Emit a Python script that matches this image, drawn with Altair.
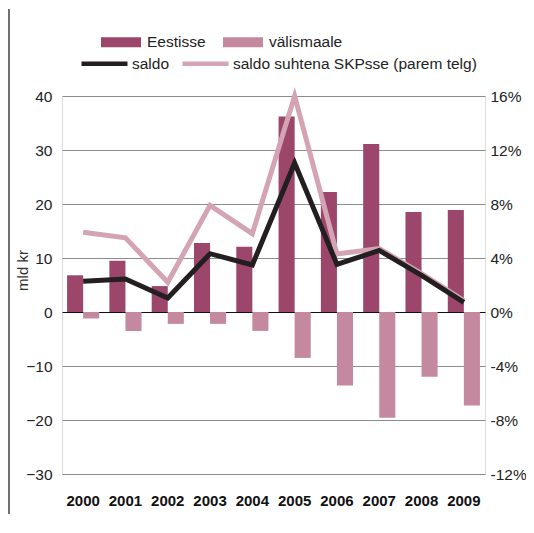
import altair as alt
import pandas as pd

years = ["2000", "2001", "2002", "2003", "2004", "2005", "2006", "2007", "2008", "2009"]
eestisse = [6.8, 9.5, 4.8, 12.8, 12.1, 36.2, 22.2, 31.1, 18.5, 18.9]
valismaale = [-1.2, -3.5, -2.2, -2.2, -3.5, -8.5, -13.6, -19.6, -12.0, -17.3]
saldo = [5.7, 6.1, 2.6, 10.8, 8.7, 27.6, 8.8, 11.4, 6.8, 1.8]
saldo_pct = [5.9, 5.5, 2.2, 7.9, 5.8, 16.0, 4.3, 4.7, 2.85, 0.85]

bar_series = ["Eestisse", "välismaale"]
line_series = ["saldo", "saldo suhtena SKPsse (parem telg)"]
left_ticks = [-30, -20, -10, 0, 10, 20, 30, 40]
right_ticks = [-12, -8, -4, 0, 4, 8, 12, 16]

FONT = "Liberation Sans"

bars_df = pd.DataFrame({
    "year": years * 2,
    "series": [bar_series[0]] * len(years) + [bar_series[1]] * len(years),
    "value": eestisse + valismaale,
})
saldo_df = pd.DataFrame({"year": years, "series": line_series[0], "value": saldo})
pct_df = pd.DataFrame({"year": years, "series": line_series[1], "value": saldo_pct})
one = pd.DataFrame({"a": [0]})

x_enc = alt.X(
    "year:N",
    sort=years,
    scale=alt.Scale(paddingInner=0.24, paddingOuter=0.12),
    axis=alt.Axis(
        title=None, ticks=False, domain=False, labelAngle=0,
        labelFont=FONT, labelFontSize=15, labelFontWeight="bold",
        labelColor="#111", labelPadding=19,
    ),
)

stroke_enc = alt.Stroke(
    "series:N",
    scale=alt.Scale(domain=line_series, range=["#231f20", "#d4a3b4"]),
    legend=alt.Legend(
        title=None, orient="none", direction="horizontal",
        legendX=17, legendY=-58, padding=0,
        symbolType="stroke", symbolSize=2116, symbolStrokeWidth=4.5,
        labelFont=FONT, labelFontSize=15.5, labelColor="#222",
        labelOffset=2, columnPadding=3, labelLimit=400,
    ),
)

bars = alt.Chart(bars_df).mark_bar().encode(
    x=x_enc,
    xOffset=alt.XOffset("series:N", sort=bar_series, scale=alt.Scale(paddingInner=0, paddingOuter=0)),
    y=alt.Y(
        "value:Q",
        scale=alt.Scale(domain=[-30, 40], nice=False, zero=False),
        axis=alt.Axis(
            title="mld kr", orient="left", values=left_ticks, grid=True,
            gridColor={"condition": {"test": "datum.value === 0", "value": "#111111"}, "value": "#8c8c8c"},
            gridWidth=1.2, ticks=False, domain=False,
            labelFont=FONT, labelFontSize=15.5, labelColor="#222", labelPadding=10,
            titleFont=FONT, titleFontSize=15, titleFontWeight="normal", titleColor="#333",
            titleX=-40, titleY=174, titleAngle=-90, titleAlign="center", titleBaseline="middle",
        ),
    ),
    fill=alt.Fill(
        "series:N",
        scale=alt.Scale(domain=bar_series, range=["#9c466c", "#c4889f"]),
        legend=alt.Legend(
            title=None, orient="none", direction="horizontal",
            legendX=39, legendY=-74, padding=0,
            symbolType="M-1,-0.25H1V0.25H-1Z", symbolSize=1600, symbolStrokeWidth=0,
            symbolOpacity=1,
            labelFont=FONT, labelFontSize=15.5, labelColor="#222",
            labelOffset=6, columnPadding=17, labelLimit=400,
        ),
    ),
)

pct_line = alt.Chart(pct_df).mark_line(strokeWidth=5, strokeJoin="miter", strokeCap="butt").encode(
    x=alt.X("year:N", sort=years),
    y=alt.Y(
        "value:Q",
        scale=alt.Scale(domain=[-12, 16], nice=False, zero=False),
        axis=alt.Axis(
            title=None, orient="right", values=right_ticks, grid=False,
            ticks=False, domain=False, labelExpr="datum.value + '%'",
            labelFont=FONT, labelFontSize=15.5, labelColor="#222", labelPadding=5,
        ),
    ),
    stroke=stroke_enc,
)

saldo_line = alt.Chart(saldo_df).mark_line(strokeWidth=5, strokeJoin="miter", strokeCap="butt").encode(
    x=alt.X("year:N", sort=years),
    y=alt.Y("value:Q", scale=alt.Scale(domain=[-30, 40], nice=False, zero=False), axis=None),
    stroke=stroke_enc,
)

frame_left = alt.Chart(one).mark_rule(color="#333", strokeWidth=1.4).encode(
    x=alt.value(-53), y=alt.value(-87), y2=alt.value(420)
)

chart = alt.layer(frame_left, bars, pct_line, saldo_line).resolve_scale(
    y="independent"
).properties(
    width=423, height=378,
    autosize=alt.AutoSizeParams(type="none"),
    padding={"left": 54, "top": 88, "right": 41, "bottom": 40},
).configure_view(stroke=None).configure(background="white")

chart.save("out.html", embed_options={"renderer": "svg", "actions": False})
